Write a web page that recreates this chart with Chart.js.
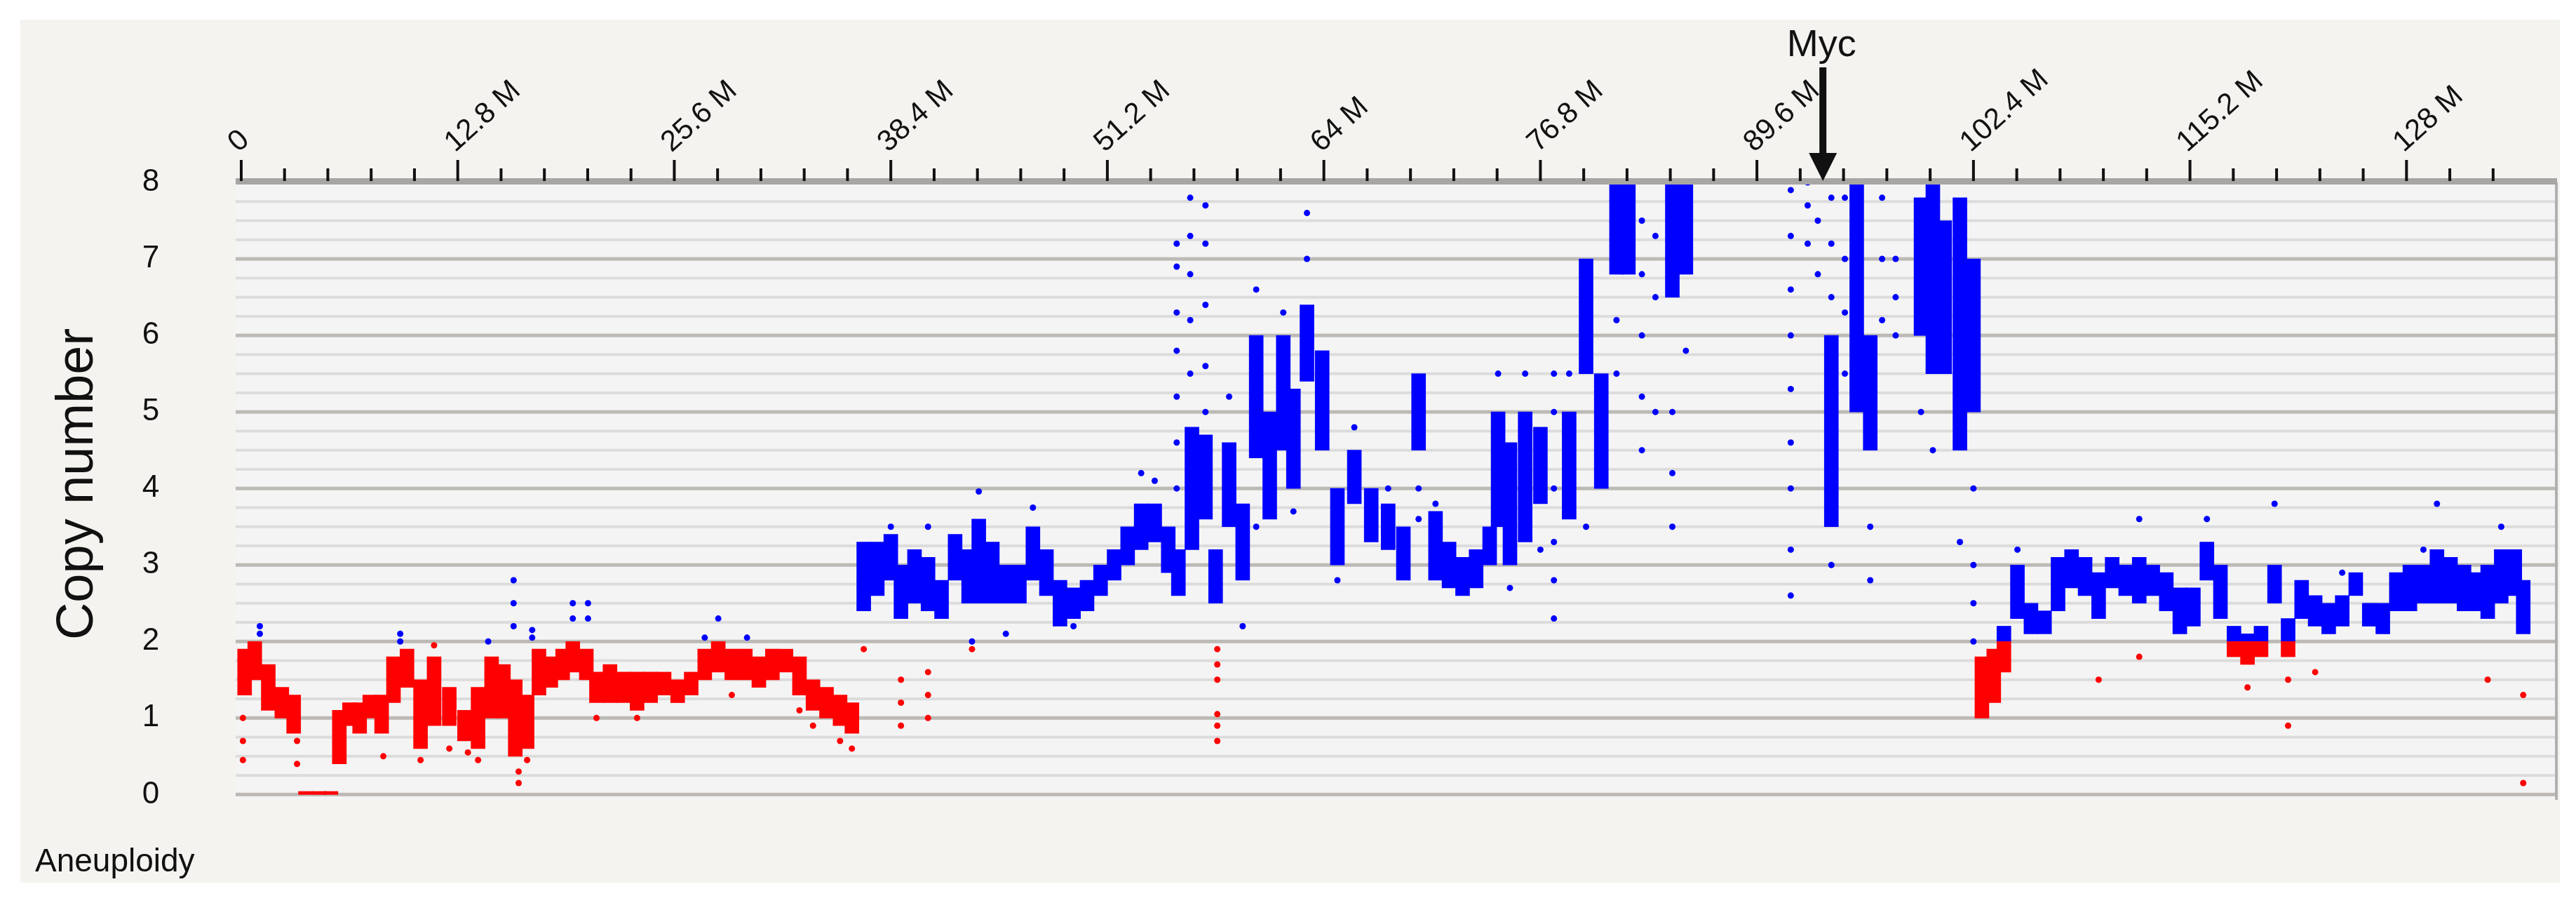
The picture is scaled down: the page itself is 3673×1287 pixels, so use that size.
<!DOCTYPE html>
<html><head><meta charset="utf-8">
<script src="https://cdn.jsdelivr.net/npm/chart.js@4.4.1/dist/chart.umd.min.js"></script>
<style>html,body{margin:0;padding:0;background:#fff}#wrap{width:3673px;height:1287px}</style>
</head><body><div id="wrap"><canvas id="c" width="3673" height="1287"></canvas></div>
<script>
// Genomic position (Mb) of each bin, with core low/high copy number
const binPos = [0.2,0.8,1.6,2.4,3.1,3.8,4.6,5.3,5.8,6.4, 7.0,7.6,8.3,9.0,9.8,10.6,11.4,12.3,13.2,14.0, 14.8,15.5,16.2,16.9,17.6,18.3,19.0,19.6,20.4,21.0, 21.8,22.6,23.4,24.2,25.0,25.8,26.6,27.4,28.2,29.0, 29.8,30.6,31.4,32.2,33.0,33.8,34.6,35.4,36.1,
  36.8,37.6,38.4,39.0,39.8,40.6,41.4,42.2,43.0,43.6, 44.4,45.2,46.0,46.8,47.6,48.4,49.2,50.0,50.8,51.6, 52.4,53.2,54.0,54.8,55.4,56.2,57.0,57.6,58.4,59.2, 60.0,60.8,61.6,62.2,63.0,63.9,64.8,65.8,66.8,67.8, 68.7,69.6,70.6,71.4,72.2,73.0,73.8,74.3,75.0,75.9, 76.8,78.5,79.5,80.4,81.3,82.0,84.6,85.4,
  94.0,95.5,96.3,99.3,100.0,100.7,101.6,102.4,102.9,103.6, 104.2,105.0,105.8,106.6,107.4,108.2,109.0,109.8,110.6,111.4, 112.2,113.0,113.8,114.6,115.4,116.2,117.0,117.8,118.6,119.4, 120.2,121.0,121.8,122.6,123.4,124.2,125.0,125.8,126.6,127.4, 128.2,129.0,129.8,130.6,131.4,132.2,132.8,133.6,134.4,134.9];
const binLo = [1.3,1.5,1.1,1.0,0.8,0,0,0,0.4,0.9, 0.8,1.0,0.8,1.2,1.4,0.6,0.9,0.9,0.7,0.6, 1.0,1.0,0.5,0.6,1.3,1.4,1.5,1.6,1.5,1.2, 1.2,1.2,1.1,1.2,1.3,1.2,1.3,1.5,1.6,1.5, 1.5,1.4,1.5,1.6,1.3,1.1,1.0,0.9,0.8,
  2.4,2.6,2.8,2.3,2.5,2.4,2.3,2.8,2.5,2.5, 2.5,2.5,2.5,2.8,2.6,2.2,2.3,2.4,2.6,2.8, 3.0,3.2,3.3,2.9,2.6,3.2,3.6,2.5,3.5,2.8, 4.4,3.6,4.5,4.0,5.4,4.5,3.0,3.8,3.3,3.2, 2.8,4.5,2.8,2.7,2.6,2.7,3.0,3.5,3.0,3.3, 3.8,3.6,5.5,4.0,6.8,6.8,6.5,6.8,
  3.5,5.0,4.5,6.0,5.5,5.5,4.5,5.0,1.0,1.2, 1.6,2.3,2.1,2.1,2.4,2.7,2.6,2.3,2.7,2.6, 2.5,2.6,2.4,2.1,2.2,2.8,2.3,1.8,1.7,1.8, 2.5,1.8,2.3,2.2,2.1,2.2,2.6,2.2,2.1,2.4, 2.4,2.5,2.5,2.5,2.4,2.4,2.3,2.5,2.6,2.1];
const binHi = [1.9,2.0,1.7,1.4,1.3,0.04,0.04,0.04,1.1,1.2, 1.2,1.3,1.3,1.8,1.9,1.5,1.8,1.4,1.1,1.4, 1.8,1.7,1.5,1.3,1.9,1.8,1.9,2.0,1.9,1.6, 1.7,1.6,1.6,1.6,1.6,1.5,1.6,1.9,2.0,1.9, 1.9,1.8,1.9,1.9,1.8,1.5,1.4,1.3,1.2,
  3.3,3.3,3.4,3.0,3.2,3.1,2.8,3.4,3.2,3.6, 3.3,3.0,3.0,3.5,3.2,2.8,2.7,2.8,3.0,3.2, 3.5,3.8,3.8,3.5,3.2,4.8,4.7,3.2,4.6,3.8, 6.0,5.0,6.0,5.3,6.4,5.8,4.0,4.5,4.0,3.8, 3.5,5.5,3.7,3.3,3.1,3.2,3.5,5.0,4.6,5.0, 4.8,5.0,7.0,5.5,8.0,8.0,8.0,8.0,
  6.0,8.0,6.0,7.8,8.0,7.5,7.8,7.0,1.8,1.9, 2.2,3.0,2.5,2.4,3.1,3.2,3.1,2.9,3.1,3.0, 3.1,3.0,2.9,2.7,2.7,3.3,3.0,2.2,2.1,2.2, 3.0,2.3,2.8,2.6,2.5,2.6,2.9,2.5,2.5,2.9, 3.0,3.0,3.2,3.1,3.0,2.9,3.0,3.2,3.2,2.8];
// Scattered individual probes outside the core bands
const outlierPos = [0.1,1.1,3.3,8.4,9.4,10.6,11.4,12.3,13.4,14.0,14.6,16.1,16.4,16.9,17.2,19.6,20.5,21.0,23.4,27.4,28.2,29.0,29.9,33.0,33.8,35.4,36.1,36.8,38.4,39.0,40.6,43.2,43.6,45.2,46.8,49.2,53.2,54.0,55.3,56.1,57.0,57.7,58.4,59.2,60.0,61.6,62.2,63.0,64.8,65.8,67.8,69.6,70.6,74.3,75.0,75.9,76.8,77.6,78.5,79.5,81.3,82.8,83.6,84.6,85.4,91.6,92.6,93.2,94.0,94.8,96.3,97.0,97.8,99.3,100.0,101.6,102.4,105.0,109.8,112.2,116.2,118.6,120.2,121.0,122.6,124.2,129.0,129.8,132.8,133.6,134.9];
const outlierVals = [[0.45,0.7,1.0],[2.1,2.2],[0.7,0.4],[0.5],[2.0,2.1],[0.45],[1.95],[0.6],[0.55],[0.45],[2.0],[2.2,2.5,2.8],[0.15,0.3],[0.45],[2.05,2.15],[2.3,2.5],[2.3,2.5],[1.0],[1.0],[2.05],[2.3],[1.3],[2.05],[1.1],[0.9],[0.7],[0.6],[1.9],[3.5],[0.9,1.2,1.5],[3.5,1.0,1.3,1.6],[2.0,1.9],[3.96],[2.1],[3.75],[2.2],[4.2],[4.1],[4.0,4.6,5.2,5.8,6.3,6.9,7.2],[5.5,6.2,6.8,7.3,7.8],[5.0,5.6,6.4,7.2,7.7],[1.5,1.7,1.9,0.7,0.9,1.05],[5.2],[2.2],[6.6,3.5],[6.3],[3.7],[7.0,7.6],[2.8],[4.8],[4.0],[3.6,4.0],[3.8],[5.5],[2.7],[5.5],[3.2],[2.3,2.8,3.3,4.0,5.0,5.5],[5.5],[3.5],[5.5,6.2],[4.5,5.2,6.0,6.8,7.5],[5.0,6.5,7.3],[3.5,4.2,5.0],[5.8],[2.6,3.2,4.0,4.6,5.3,6.0,6.6,7.3,7.9],[7.2,7.7,8.0],[6.8,7.5],[3.0,6.5,7.2,7.8],[5.5,6.3,7.0,7.8],[2.8,3.5],[6.2,7.0,7.8],[6.0,6.5,7.0],[5.0],[4.5],[3.3],[2.0,2.5,3.0,4.0],[3.2],[1.5],[3.6,1.8],[3.6],[1.4],[3.8],[0.9,1.5],[1.6],[2.9],[3.2],[3.8],[1.5],[3.5],[1.3,0.15]];
const xTickLabels = ['0','12.8 M','25.6 M','38.4 M','51.2 M','64 M','76.8 M','89.6 M','102.4 M','115.2 M','128 M'];
const yTickLabels = ['0','1','2','3','4','5','6','7','8'];
const mycPos = 93.5;

const RED='#ff0000', BLUE='#0000ff', TH=2;
const redBars = [], blueBars = [], pts = [];
binPos.forEach((p,i)=>{
  const lo=binLo[i], hi=binHi[i];
  if (lo < TH) redBars.push({x:p, y:[lo, Math.min(hi,TH)]});
  if (hi > TH) blueBars.push({x:p, y:[Math.max(lo,TH), hi]});
});
outlierPos.forEach((p,i)=>outlierVals[i].forEach(v=>pts.push({x:p,y:v})));

const FONT='"Liberation Sans", Arial, sans-serif';
const deco = {
  id:'deco',
  beforeDraw(ch){
    const c=ch.ctx, a=ch.chartArea, y=ch.scales.y;
    c.save();
    c.fillStyle='#ffffff'; c.fillRect(0,0,ch.width,ch.height);
    c.fillStyle='#f5f3f0'; c.fillRect(29,28,3621,1230);
    c.fillStyle='#f4f4f4'; c.fillRect(a.left,a.top,a.right-a.left,a.bottom-a.top);
    for(let k=0;k<=32;k++){
      const v=k/4, py=y.getPixelForValue(v);
      const major = k%4===0;
      c.fillStyle = major ? '#bdbab6' : '#dcdcdc';
      const h = major?5:4;
      c.fillRect(a.left, py-h/2, a.right-a.left, h);
    }
    c.fillStyle='#b0b0b0'; c.fillRect(a.right-3,a.top,4,a.bottom-a.top);
    c.restore();
  },
  afterDraw(ch){
    const c=ch.ctx, a=ch.chartArea, x=ch.scales.x, y=ch.scales.y;
    c.save();
    c.fillStyle='#a8a6a4'; c.fillRect(a.left,a.top-6,a.right-a.left,9);
    c.fillStyle='#111';
    for(let k=0;k<=52;k++){
      const px=x.getPixelForValue(k*2.56);
      if(px>a.right) break;
      const major=k%5===0;
      c.fillRect(px-2, major? a.top-32 : a.top-20, 4, major?30:18);
    }
    c.font='42px '+FONT; c.textBaseline='alphabetic'; c.textAlign='left';
    xTickLabels.forEach((t,i)=>{
      const px=x.getPixelForValue(i*12.8);
      c.save(); c.translate(px-4, a.top-42); c.rotate(-42*Math.PI/180);
      c.fillText(t,0,0); c.restore();
    });
    c.font='44px '+FONT; c.textAlign='center'; c.textBaseline='middle';
    yTickLabels.forEach((t,i)=>c.fillText(t,215,y.getPixelForValue(i)));
    c.save(); c.translate(112,690); c.rotate(-Math.PI/2);
    c.font='74px '+FONT; c.fillText('Copy number',0,0); c.restore();
    c.font='46px '+FONT; c.textAlign='left'; c.textBaseline='alphabetic';
    c.fillText('Aneuploidy',50,1242);
    const mx=x.getPixelForValue(mycPos);
    c.font='54px '+FONT; c.textAlign='center'; c.fillText('Myc',mx-2,80);
    c.fillRect(mx-5,96,10,130);
    c.beginPath(); c.moveTo(mx-20,218); c.lineTo(mx+20,218); c.lineTo(mx,258); c.closePath(); c.fill();
    c.restore();
  }
};

new Chart(document.getElementById('c'),{
  type:'bar',
  data:{datasets:[
    {type:'bar',data:redBars,backgroundColor:RED,barThickness:20,grouped:false,borderWidth:0},
    {type:'bar',data:blueBars,backgroundColor:BLUE,barThickness:20,grouped:false,borderWidth:0},
    {type:'scatter',data:pts,pointRadius:4.5,pointBorderWidth:0,
     pointBackgroundColor:ctx=>(ctx.raw && ctx.raw.y>=TH)?BLUE:RED}
  ]},
  options:{
    responsive:false,animation:false,devicePixelRatio:1,
    layout:{padding:{left:336,right:27,top:260,bottom:147}},
    plugins:{legend:{display:false},tooltip:{enabled:false}},
    scales:{
      x:{type:'linear',offset:false,min:-0.33,max:136.9,display:false},
      y:{type:'linear',min:-0.07,max:8,display:false}
    }
  },
  plugins:[deco]
});
</script></body></html>
